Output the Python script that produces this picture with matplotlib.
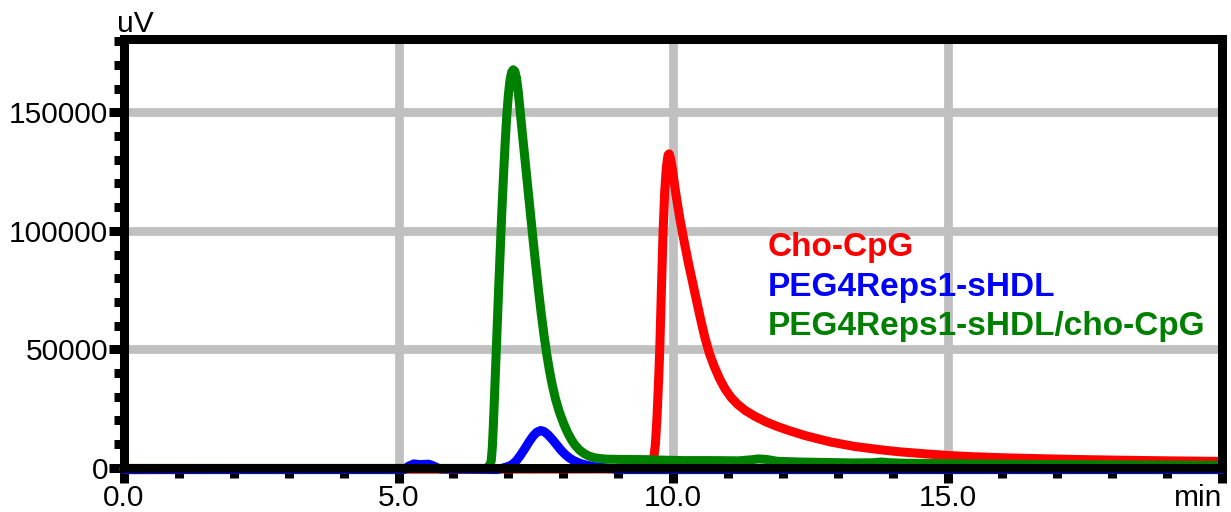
import matplotlib
matplotlib.use("Agg")
import matplotlib.pyplot as plt
from matplotlib.ticker import FixedLocator

# Retention times (min) and detector signal (uV) for each trace
cho_cpg_t = [0, 9.58, 9.62, 9.65, 9.68, 9.71, 9.74, 9.76, 9.79, 9.82, 9.85, 9.88,
             9.91, 9.93, 9.95, 9.98, 10.01, 10.04, 10.08, 10.13, 10.17, 10.22,
             10.28, 10.35, 10.42, 10.50, 10.58, 10.66, 10.75, 10.85, 10.95, 11.06,
             11.18, 11.32, 11.50, 11.70, 11.90, 12.10, 12.40, 12.86, 13.30, 13.77,
             14.13, 14.68, 15.05, 15.50, 16.00, 16.87, 17.50, 18.20, 19.00, 20.00]
cho_cpg_v = [-800, -500, 1000, 4000, 10000, 22000, 38000, 51000, 76000, 100000,
             117000, 127000, 132000, 132500, 131000, 127500, 122500, 117500, 111500,
             104500, 99500, 93500, 86500, 79000, 71500, 63000, 55000, 48500, 42800,
             37500, 33200, 29600, 26700, 24100, 21600, 19300, 17400, 15800, 13600,
             10900, 9000, 7600, 6700, 5700, 5100, 4600, 4200, 3700, 3400, 3150,
             2900, 2650]

shdl_t = [0, 5.10, 5.18, 5.28, 5.38, 5.48, 5.55, 5.65, 5.75, 6.80, 6.95, 7.02,
          7.08, 7.15, 7.22, 7.30, 7.38, 7.45, 7.52, 7.59, 7.65, 7.72, 7.80, 7.88,
          7.96, 8.04, 8.12, 8.20, 8.30, 8.40, 8.55, 8.75, 9.00, 20.00]
shdl_v = [-800, -800, 600, 1600, 1300, 1400, 1500, 600, -500, -800, 200, 700,
          1500, 3000, 5200, 8000, 11000, 13300, 15000, 15700, 15300, 14000, 12000,
          9700, 7400, 5500, 4000, 2900, 1900, 1200, 500, 0, -800, -800]

shdl_cpg_t = [0, 6.60, 6.66, 6.69, 6.71, 6.73, 6.75, 6.77, 6.79, 6.82, 6.85, 6.88,
              6.91, 6.94, 6.97, 7.00, 7.03, 7.06, 7.09, 7.12, 7.15, 7.18, 7.21,
              7.25, 7.30, 7.35, 7.40, 7.45, 7.50, 7.55, 7.60, 7.65, 7.70, 7.75,
              7.80, 7.86, 7.93, 8.01, 8.08, 8.15, 8.22, 8.30, 8.38, 8.46, 8.55,
              8.65, 8.80, 9.00, 9.50, 9.80, 10.20, 10.70, 11.20, 11.45, 11.55,
              11.70, 11.90, 12.30, 12.80, 13.30, 13.65, 13.80, 13.95, 14.20, 14.60,
              15.00, 15.50, 16.50, 18.00, 20.00]
shdl_cpg_v = [-300, -300, 800, 3000, 9000, 19000, 31000, 43000, 55000, 73000,
              90000, 107000, 122000, 136000, 148000, 157000, 163500, 167000,
              168000, 167300, 164500, 159000, 152000, 142500, 131000, 119500,
              108000, 96500, 85500, 75000, 65000, 56000, 48000, 41000, 35000,
              29000, 23500, 18500, 14800, 11800, 9400, 7400, 6000, 5000, 4300,
              3900, 3600, 3500, 3400, 3200, 3000, 3000, 2900, 3400, 3700, 3500,
              2700, 2400, 2200, 2000, 2100, 2400, 2100, 1900, 1800, 1700, 1600,
              1400, 1200, 1000]

series_names = ["Cho-CpG", "PEG4Reps1-sHDL", "PEG4Reps1-sHDL/cho-CpG"]
series_colors = ["#ff0000", "#0000ff", "#008000"]

x_major = [0, 5, 10, 15, 20]
x_labels = ["0.0", "5.0", "10.0", "15.0", "min"]
y_major = [0, 50000, 100000, 150000]
y_labels = ["0", "50000", "100000", "150000"]

plt.rcParams["font.family"] = ["Liberation Sans", "DejaVu Sans"]

fig = plt.figure(figsize=(12.31, 5.12), dpi=100)
ax = fig.add_axes([124 / 1231, 44.3 / 512, (1222 - 124) / 1231, (473 - 44.3) / 512])

traces = [(cho_cpg_t, cho_cpg_v), (shdl_t, shdl_v), (shdl_cpg_t, shdl_cpg_v)]
for (t, v), color in zip(traces, series_colors):
    ax.plot(t, v, color=color, lw=6.5, solid_capstyle="round",
            solid_joinstyle="round", clip_on=False, zorder=2)

ax.set_xlim(0, 20)
ax.set_ylim(0, 181000)

ax.xaxis.set_major_locator(FixedLocator(x_major))
ax.xaxis.set_minor_locator(FixedLocator([i for i in range(21) if i % 5]))
ax.set_xticklabels(x_labels)
ax.yaxis.set_major_locator(FixedLocator(y_major))
ax.yaxis.set_minor_locator(FixedLocator([i * 10000 for i in range(19) if i % 5]))
ax.set_yticklabels(y_labels)

ax.tick_params(axis="both", which="major", direction="out", length=10.5,
               width=6.5, color="black", labelsize=21.5, pad=1)
ax.tick_params(axis="both", which="minor", direction="out", length=7,
               width=6.5, color="black")
for lbl in ax.get_xticklabels():
    if lbl.get_text() == "min":
        lbl.set_horizontalalignment("right")

for side in ["left", "right", "top", "bottom"]:
    ax.spines[side].set_linewidth(6.5)
    ax.spines[side].set_color("black")
    ax.spines[side].set_zorder(3)

ax.set_axisbelow(True)
ax.grid(True, which="major", color="#c0c0c0", lw=6.3)

fig.text(117 / 1231, 1 - 32 / 512, "uV", fontsize=21.5, va="baseline", ha="left")

baselines = [256, 296, 335]
for name, color, base in zip(series_names, series_colors, baselines):
    fig.text(768 / 1231, 1 - base / 512, name, color=color, fontsize=24,
             fontweight="bold", va="baseline", ha="left")

fig.savefig("out.png", dpi=100, facecolor="white")
